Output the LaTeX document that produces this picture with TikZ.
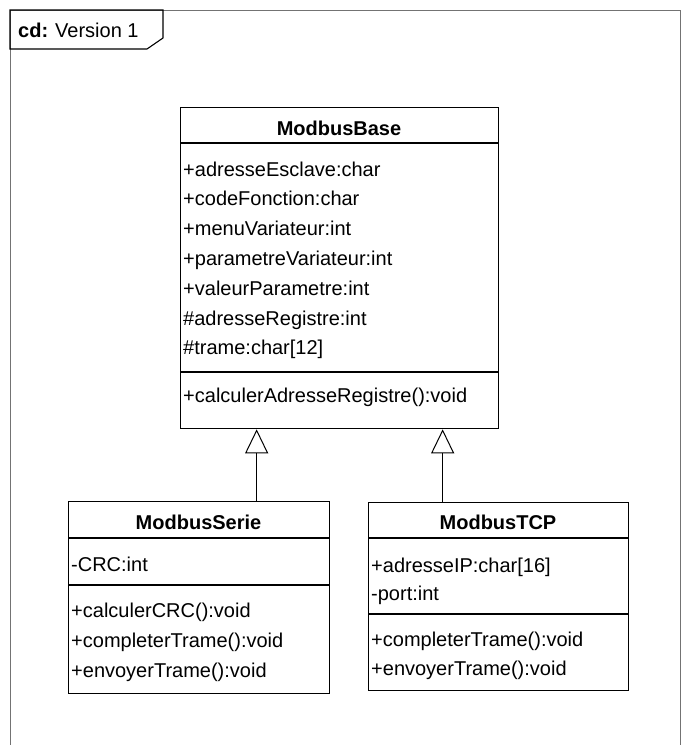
\documentclass[tikz,border=0pt]{standalone}
\usepackage{fontspec}
\setmainfont{Liberation Sans}
\usetikzlibrary{arrows.meta,calc}
\newcommand\umlfont{\fontsize{20}{24}\selectfont}
\tikzset{
  classbox/.style={draw=black, line width=1.3pt, rectangle, inner sep=0pt, anchor=north west},
  member/.style={anchor=base west, inner sep=0pt, font=\umlfont},
  ctitle/.style={anchor=base, inner sep=0pt, font=\umlfont\bfseries},
  compsep/.style={line width=1.2pt},
  inherit/.style={line width=1pt, -{Triangle[open, length=24pt, width=23pt, line width=1pt]}},
  framebox/.style={draw=black!55, line width=0.9pt},
  tagbox/.style={draw=black, line width=1.1pt},
}
\begin{document}
\begin{tikzpicture}[x=1pt,y=-1pt]
\useasboundingbox (0,0) rectangle (686,745);
\fill[white] (0,0) rectangle (686,745);

% diagram frame and its name tag
\draw[framebox] (10,745) -- (10,10) -- (680,10) -- (680,745);
\node[anchor=base west, inner sep=0pt, font=\umlfont] (tag) at (18,37) {\textbf{cd:}\hspace{7pt}Version 1};
\draw[tagbox] (10,10) -- (163,10) -- (163,38) -- (147,49) -- (10,49) -- cycle;

% class ModbusBase
\node[classbox, minimum width=318pt, minimum height=321pt] (base) at (180,107) {};
\draw[compsep] ([yshift=-36pt]base.north west) -- ([yshift=-36pt]base.north east);
\draw[compsep] ([yshift=-265pt]base.north west) -- ([yshift=-265pt]base.north east);
\node[ctitle] (baseT) at (339,135) {ModbusBase};
\node[member] (b1) at (183,176) {+adresseEsclave:char};
\node[member] (b2) at (183,205.8) {+codeFonction:char};
\node[member] (b3) at (183,235.6) {+menuVariateur:int};
\node[member] (b4) at (183,265.4) {+parametreVariateur:int};
\node[member] (b5) at (183,295.2) {+valeurParametre:int};
\node[member] (b6) at (183,325) {\#adresseRegistre:int};
\node[member] (b7) at (183,354.8) {\#trame:char[12]};
\node[member] (b8) at (183,402) {+calculerAdresseRegistre():void};

% class ModbusSerie
\node[classbox, minimum width=261pt, minimum height=192pt] (serie) at (68,501) {};
\draw[compsep] ([yshift=-37pt]serie.north west) -- ([yshift=-37pt]serie.north east);
\draw[compsep] ([yshift=-84pt]serie.north west) -- ([yshift=-84pt]serie.north east);
\node[ctitle] (serieT) at (198.5,529) {ModbusSerie};
\node[member] (s1) at (71,571) {-CRC:int};
\node[member] (s2) at (71,617) {+calculerCRC():void};
\node[member] (s3) at (71,647) {+completerTrame():void};
\node[member] (s4) at (71,677) {+envoyerTrame():void};

% class ModbusTCP
\node[classbox, minimum width=260pt, minimum height=188pt] (tcp) at (368,502) {};
\draw[compsep] ([yshift=-36pt]tcp.north west) -- ([yshift=-36pt]tcp.north east);
\draw[compsep] ([yshift=-112pt]tcp.north west) -- ([yshift=-112pt]tcp.north east);
\node[ctitle] (tcpT) at (498,529) {ModbusTCP};
\node[member] (t1) at (371,572) {+adresseIP:char[16]};
\node[member] (t2) at (371,600) {-port:int};
\node[member] (t3) at (371,646) {+completerTrame():void};
\node[member] (t4) at (371,675) {+envoyerTrame():void};

% generalizations
\draw[inherit] ([xshift=57.5pt]serie.north) -- ([xshift=57.5pt]serie.north |- base.south);
\draw[inherit] ([xshift=-56pt]tcp.north) -- ([xshift=-56pt]tcp.north |- base.south);
\end{tikzpicture}
\end{document}
